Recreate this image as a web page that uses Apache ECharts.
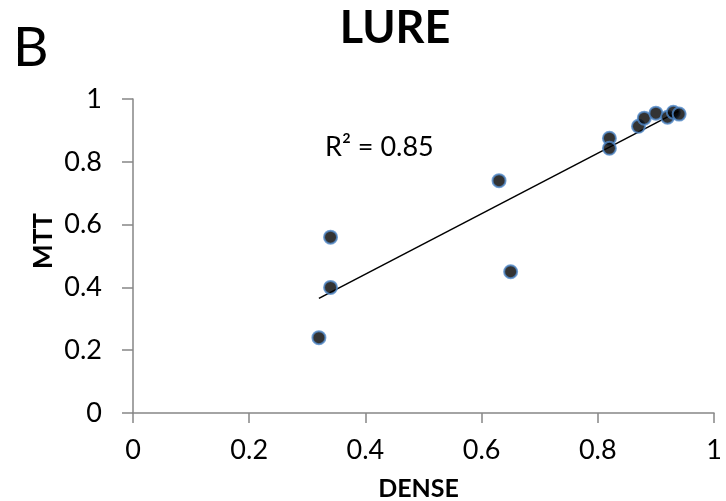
<!DOCTYPE html>
<html>
<head>
<meta charset="utf-8">
<script src="https://cdn.jsdelivr.net/npm/echarts@6/dist/echarts.min.js"></script>
<style>html,body{margin:0;padding:0;background:#fff;}#c{width:726px;height:501px;}</style>
</head>
<body>
<div id="c"></div>
<script>
const denseValues = [0.32, 0.34, 0.34, 0.63, 0.65, 0.82, 0.82, 0.87, 0.88, 0.90, 0.92, 0.93, 0.94];
const mttValues   = [0.24, 0.56, 0.40, 0.74, 0.45, 0.875, 0.843, 0.913, 0.939, 0.955, 0.942, 0.958, 0.952];
const trendX = [0.32, 0.94];
const trendY = [0.365, 0.962];
const xTicks = ['0', '0.2', '0.4', '0.6', '0.8', '1'];
const yTicks = ['0', '0.2', '0.4', '0.6', '0.8', '1'];
const titleText = 'LURE';
const panelLabel = 'B';
const r2Label = 'R² = 0.85';
const xName = 'DENSE';
const yName = 'MTT';

const font = 'Lato, "Open Sans", sans-serif';
const chart = echarts.init(document.getElementById('c'));
chart.setOption({
  animation: false,
  backgroundColor: '#fff',
  title: [
    { text: titleText, left: 390, top: 1, textAlign: 'center',
      textStyle: { fontFamily: font, fontSize: 45, fontWeight: 'bold', color: '#000' } },
    { text: panelLabel, left: 8, top: 16,
      textStyle: { fontFamily: font, fontSize: 55, fontWeight: 'normal', color: '#000' } }
  ],
  graphic: [
    { type: 'text', left: 325, top: 134,
      style: { text: r2Label, fontFamily: font, fontSize: 27, fill: '#000' } },
    { type: 'text', x: 44, y: 241, rotation: Math.PI / 2,
      style: { text: yName, fontFamily: font, fontSize: 26, fontWeight: 'bold', fill: '#000',
        align: 'center', verticalAlign: 'middle' } }
  ],
  grid: { left: 133, right: 12, top: 99, bottom: 88, containLabel: false, outerBoundsMode: 'none' },
  xAxis: {
    type: 'value', min: 0, max: 1, interval: 0.2,
    name: xName, nameLocation: 'middle', nameGap: 63,
    nameTextStyle: { fontFamily: font, fontSize: 25, fontWeight: 'bold', color: '#000',
      padding: [0, 10, 0, 0] },
    axisLine: { show: true, onZero: false, lineStyle: { color: '#868686', width: 1.5 } },
    axisTick: { show: true, length: 10, lineStyle: { color: '#868686', width: 1.5 } },
    axisLabel: { fontFamily: font, fontSize: 27, color: '#000', margin: 24,
      formatter: v => xTicks[Math.round(v / 0.2)] },
    splitLine: { show: false }
  },
  yAxis: {
    type: 'value', min: 0, max: 1, interval: 0.2,
    axisLine: { show: true, onZero: false, lineStyle: { color: '#868686', width: 1.5 } },
    axisTick: { show: true, length: 11, lineStyle: { color: '#868686', width: 1.5 } },
    axisLabel: { fontFamily: font, fontSize: 27, color: '#000', margin: 31,
      formatter: v => yTicks[Math.round(v / 0.2)] },
    splitLine: { show: false }
  },
  series: [
    {
      type: 'line',
      data: trendX.map((x, i) => [x, trendY[i]]),
      symbol: 'none',
      lineStyle: { color: '#000', width: 1.5 },
      z: 1
    },
    {
      type: 'scatter',
      data: denseValues.map((x, i) => [x, mttValues[i]]),
      symbol: 'circle',
      symbolSize: 13,
      itemStyle: { color: '#000', borderColor: '#5088c8', borderWidth: 2 },
      z: 2
    }
  ]
});
</script>
</body>
</html>
